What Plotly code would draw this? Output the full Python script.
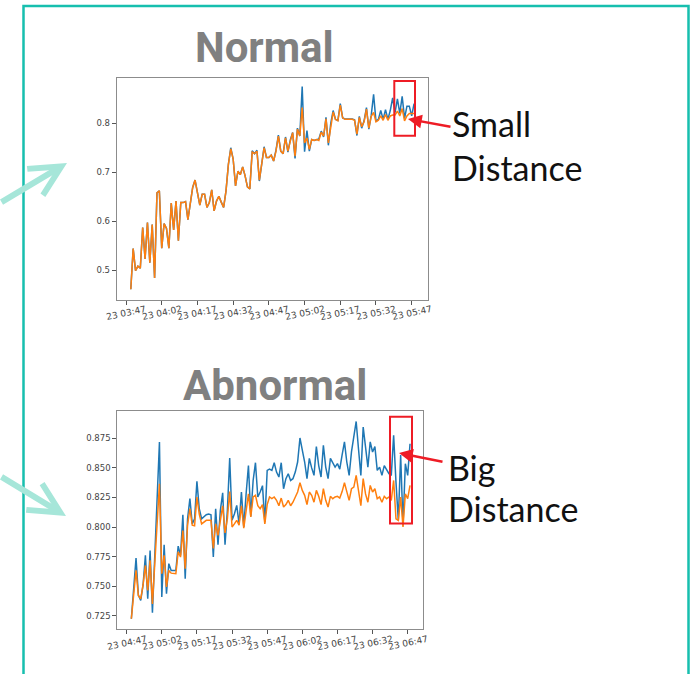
import plotly.graph_objects as go
import pandas as pd

W, H = 697, 674


def px(x):
    return x / W


def py(y):
    return 1 - y / H


# ---------------- data ----------------
normal_actual = [
    0.461, 0.544, 0.499, 0.508, 0.504, 0.587, 0.523, 0.597, 0.515, 0.593,
    0.484, 0.658, 0.662, 0.545, 0.595, 0.585, 0.545, 0.637, 0.582, 0.641,
    0.560, 0.638, 0.638, 0.640, 0.603, 0.641, 0.669, 0.684, 0.662, 0.633,
    0.655, 0.655, 0.628, 0.638, 0.664, 0.621, 0.641, 0.651, 0.639, 0.628,
    0.662, 0.716, 0.750, 0.727, 0.672, 0.702, 0.695, 0.711, 0.693, 0.670,
    0.666, 0.744, 0.738, 0.745, 0.682, 0.723, 0.752, 0.730, 0.730, 0.735,
    0.723, 0.745, 0.776, 0.743, 0.738, 0.772, 0.741, 0.766, 0.781, 0.728,
    0.790, 0.774, 0.875, 0.742, 0.785, 0.743, 0.767, 0.765, 0.767, 0.768,
    0.784, 0.772, 0.812, 0.755, 0.800, 0.826, 0.808, 0.806, 0.840, 0.811,
    0.809, 0.809, 0.809, 0.809, 0.807, 0.775, 0.814, 0.790, 0.805, 0.832,
    0.788, 0.816, 0.859, 0.804, 0.808, 0.826, 0.808, 0.828, 0.808, 0.826,
    0.852, 0.822, 0.850, 0.820, 0.855, 0.810, 0.835, 0.835, 0.815, 0.840,
]
normal_pred = [
    0.461, 0.544, 0.499, 0.508, 0.504, 0.587, 0.523, 0.597, 0.515, 0.593,
    0.484, 0.658, 0.662, 0.545, 0.595, 0.585, 0.545, 0.637, 0.582, 0.641,
    0.560, 0.638, 0.638, 0.640, 0.603, 0.641, 0.669, 0.684, 0.662, 0.633,
    0.655, 0.655, 0.628, 0.638, 0.664, 0.621, 0.641, 0.651, 0.639, 0.628,
    0.662, 0.716, 0.748, 0.727, 0.672, 0.702, 0.695, 0.711, 0.693, 0.670,
    0.666, 0.741, 0.738, 0.743, 0.684, 0.723, 0.750, 0.730, 0.730, 0.735,
    0.723, 0.743, 0.774, 0.743, 0.738, 0.770, 0.743, 0.763, 0.781, 0.733,
    0.788, 0.774, 0.832, 0.760, 0.770, 0.747, 0.767, 0.765, 0.767, 0.765,
    0.782, 0.774, 0.809, 0.760, 0.797, 0.823, 0.808, 0.805, 0.837, 0.811,
    0.808, 0.808, 0.808, 0.808, 0.806, 0.778, 0.812, 0.793, 0.803, 0.829,
    0.790, 0.814, 0.822, 0.803, 0.806, 0.815, 0.806, 0.818, 0.806, 0.815,
    0.817, 0.817, 0.825, 0.815, 0.830, 0.805, 0.815, 0.820, 0.820, 0.820,
]
abnormal_actual = [
    0.7224, 0.745, 0.7738, 0.7425, 0.7379, 0.751, 0.776, 0.7393, 0.7802, 0.7275,
    0.776, 0.820, 0.8719, 0.7408, 0.785, 0.7436, 0.769, 0.7633, 0.7633, 0.7633,
    0.7839, 0.776, 0.8104, 0.7563, 0.807, 0.824, 0.8027, 0.807, 0.8386, 0.8155,
    0.807, 0.8085, 0.8104, 0.811, 0.8104, 0.7746, 0.8155, 0.785, 0.814, 0.829,
    0.785, 0.814, 0.8584, 0.8057, 0.811, 0.8183, 0.8027, 0.8296, 0.800, 0.828,
    0.852, 0.809, 0.8394, 0.8544, 0.8254, 0.8296, 0.835, 0.804, 0.8479, 0.849,
    0.8479, 0.8544, 0.8465, 0.8423, 0.8544, 0.8324, 0.8409, 0.8451, 0.8394, 0.8409,
    0.8465, 0.855, 0.8753, 0.865, 0.855, 0.8409, 0.858, 0.850, 0.8437, 0.868,
    0.852, 0.8423, 0.8691, 0.8507, 0.8409, 0.858, 0.8536, 0.8507, 0.8536, 0.849,
    0.861, 0.872, 0.855, 0.8437, 0.8635, 0.8747, 0.8893, 0.866, 0.8437, 0.8846,
    0.866, 0.8507, 0.872, 0.8635, 0.868, 0.8479, 0.8507, 0.8437, 0.852, 0.849,
    0.8451, 0.8437, 0.8775, 0.838, 0.8056, 0.861, 0.8014, 0.8536, 0.8437, 0.8705,
]
abnormal_pred = [
    0.7224, 0.742, 0.7633, 0.742, 0.7393, 0.751, 0.7675, 0.7464, 0.7718, 0.735,
    0.772, 0.810, 0.8366, 0.7605, 0.776, 0.7493, 0.7633, 0.761, 0.7605, 0.7605,
    0.779, 0.7746, 0.797, 0.7647, 0.8015, 0.8155, 0.8015, 0.801, 0.8254, 0.811,
    0.8027, 0.804, 0.8057, 0.8057, 0.8057, 0.782, 0.8027, 0.793, 0.807, 0.818,
    0.795, 0.807, 0.830, 0.800, 0.8027, 0.8057, 0.8015, 0.818, 0.799, 0.8155,
    0.828, 0.8085, 0.8254, 0.8268, 0.818, 0.8155, 0.819, 0.8027, 0.819, 0.8254,
    0.824, 0.8254, 0.8226, 0.818, 0.8245, 0.8169, 0.819, 0.8226, 0.818, 0.821,
    0.8254, 0.8296, 0.8375, 0.831, 0.8268, 0.819, 0.8296, 0.8268, 0.821, 0.831,
    0.826, 0.819, 0.8324, 0.8226, 0.8169, 0.826, 0.824, 0.8254, 0.826, 0.8245,
    0.830, 0.8375, 0.830, 0.8226, 0.8324, 0.8338, 0.8437, 0.8296, 0.818, 0.8409,
    0.828, 0.821, 0.8352, 0.8296, 0.8324, 0.824, 0.8254, 0.821, 0.826, 0.824,
    0.8254, 0.8226, 0.8394, 0.807, 0.8056, 0.8254, 0.800, 0.828, 0.824, 0.8352,
]
normal_times = pd.date_range("2019-01-23 03:49", periods=len(normal_actual), freq="1min")
abnormal_times = pd.date_range("2019-01-23 04:49", periods=len(abnormal_actual), freq="1min")

normal_xtick_labels = ["23 03:47", "23 04:02", "23 04:17", "23 04:32", "23 04:47",
                       "23 05:02", "23 05:17", "23 05:32", "23 05:47"]
normal_xtick_vals = pd.date_range("2019-01-23 03:47", periods=9, freq="15min")
abnormal_xtick_labels = ["23 04:47", "23 05:02", "23 05:17", "23 05:32", "23 05:47",
                         "23 06:02", "23 06:17", "23 06:32", "23 06:47"]
abnormal_xtick_vals = pd.date_range("2019-01-23 04:47", periods=9, freq="15min")
normal_ytick_vals = [0.5, 0.6, 0.7, 0.8]
normal_ytick_labels = ["0.5", "0.6", "0.7", "0.8"]
abnormal_ytick_vals = [0.725, 0.75, 0.775, 0.8, 0.825, 0.85, 0.875]
abnormal_ytick_labels = ["0.725", "0.750", "0.775", "0.800", "0.825", "0.850", "0.875"]

BLUE = "#1f77b4"
ORANGE = "#ff7f0e"
TEAL = "#17bfae"
MINT = "#a6e6d9"
RED = "#ee1c25"
TICKFONT = dict(family="DejaVu Sans", size=8.5, color="#444444")
XTICKFONT = dict(family="DejaVu Sans", size=9, color="#444444")

fig = go.Figure()
fig.add_trace(go.Scatter(x=normal_times, y=normal_actual, mode="lines",
                         line=dict(color=BLUE, width=1.5), xaxis="x", yaxis="y"))
fig.add_trace(go.Scatter(x=normal_times, y=normal_pred, mode="lines",
                         line=dict(color=ORANGE, width=1.5), xaxis="x", yaxis="y"))
fig.add_trace(go.Scatter(x=abnormal_times, y=abnormal_actual, mode="lines",
                         line=dict(color=BLUE, width=1.5), xaxis="x2", yaxis="y2"))
fig.add_trace(go.Scatter(x=abnormal_times, y=abnormal_pred, mode="lines",
                         line=dict(color=ORANGE, width=1.5), xaxis="x2", yaxis="y2"))

axis_common = dict(showline=True, mirror=True, linecolor="#8c8c8c", linewidth=1,
                   showgrid=False, zeroline=False, ticks="outside", ticklen=4,
                   tickcolor="#555555", tickwidth=1, tickfont=TICKFONT)

fig.update_layout(
    width=W, height=H, autosize=False,
    margin=dict(l=0, r=0, t=0, b=0),
    paper_bgcolor="white", plot_bgcolor="white",
    showlegend=False,
    xaxis=dict(domain=[px(116.7), px(428)], anchor="y",
               range=["2019-01-23 03:43:05", "2019-01-23 05:53:51"],
               tickmode="array", tickvals=normal_xtick_vals, showticklabels=False,
               **axis_common),
    yaxis=dict(domain=[py(300), py(78)], anchor="x", range=[0.439, 0.8925],
               tickmode="array", tickvals=normal_ytick_vals, ticktext=normal_ytick_labels,
               **axis_common),
    xaxis2=dict(domain=[px(117.3), px(423.3)], anchor="y2",
                range=["2019-01-23 04:43:00", "2019-01-23 06:53:40"],
                tickmode="array", tickvals=abnormal_xtick_vals, showticklabels=False,
                **axis_common),
    yaxis2=dict(domain=[py(629.3), py(410.7)], anchor="x2", range=[0.7135, 0.8984],
                tickmode="array", tickvals=abnormal_ytick_vals, ticktext=abnormal_ytick_labels,
                **axis_common),
)

annotations = []
# rotated x tick labels
for v, lab in zip(normal_xtick_vals, normal_xtick_labels):
    annotations.append(dict(x=v, xref="x", y=py(313), yref="paper", text=lab,
                            showarrow=False, textangle=-12, font=XTICKFONT,
                            xanchor="center", yanchor="middle"))
for v, lab in zip(abnormal_xtick_vals, abnormal_xtick_labels):
    annotations.append(dict(x=v, xref="x2", y=py(643), yref="paper", text=lab,
                            showarrow=False, textangle=-12, font=XTICKFONT,
                            xanchor="center", yanchor="middle"))

# titles
title_font = dict(family="Roboto", size=42, color="#808080", weight="bold")
annotations.append(dict(x=px(264.5), y=py(47), xref="paper", yref="paper", text="<b>Normal</b>",
                        showarrow=False, font=title_font, xanchor="center", yanchor="middle"))
annotations.append(dict(x=px(275), y=py(385), xref="paper", yref="paper", text="<b>Abnormal</b>",
                        showarrow=False, font=title_font, xanchor="center", yanchor="middle"))

# side labels
side_font = dict(family="Lato", size=34, color="#111111")
for txt, x, y in [("Small", 450, 123), ("Distance", 450, 167.5),
                  ("Big", 446, 467.5), ("Distance", 446, 508)]:
    annotations.append(dict(x=px(x), y=py(y), xref="paper", yref="paper", text=txt,
                            showarrow=False, font=side_font, xanchor="left", yanchor="middle"))

# red arrows
annotations.append(dict(x=px(408), y=py(119), xref="paper", yref="paper", text="",
                        showarrow=True, ax=44, ay=8, arrowcolor=RED, arrowwidth=2.5,
                        arrowhead=2, arrowsize=1.1, standoff=0))
annotations.append(dict(x=px(399), y=py(453), xref="paper", yref="paper", text="",
                        showarrow=True, ax=45, ay=9, arrowcolor=RED, arrowwidth=2.5,
                        arrowhead=2, arrowsize=1.1, standoff=0))

# mint arrows from the left
annotations.append(dict(x=px(67), y=py(163), xref="paper", yref="paper", text="",
                        showarrow=True, ax=-90, ay=40, arrowcolor=MINT, arrowwidth=6,
                        arrowhead=5, arrowsize=1.0, standoff=0))
annotations.append(dict(x=px(66), y=py(516), xref="paper", yref="paper", text="",
                        showarrow=True, ax=-90, ay=-40, arrowcolor=MINT, arrowwidth=6,
                        arrowhead=5, arrowsize=1.0, standoff=0))

fig.update_layout(annotations=annotations)

shapes = [
    # teal frame (bottom edge runs off the page)
    dict(type="rect", xref="paper", yref="paper", x0=px(23.5), x1=px(688.5),
         y0=py(720), y1=py(6), line=dict(color=TEAL, width=2.5), fillcolor="rgba(0,0,0,0)"),
    # red highlight boxes
    dict(type="rect", xref="paper", yref="paper", x0=px(394.3), x1=px(415),
         y0=py(135.7), y1=py(81), line=dict(color=RED, width=2)),
    dict(type="rect", xref="paper", yref="paper", x0=px(390), x1=px(412),
         y0=py(523.5), y1=py(416.7), line=dict(color=RED, width=2)),
]
fig.update_layout(shapes=shapes)

fig.write_html("out.html", config={"displayModeBar": False},
               post_script="document.body.style.margin='0';document.body.style.padding='0';")
